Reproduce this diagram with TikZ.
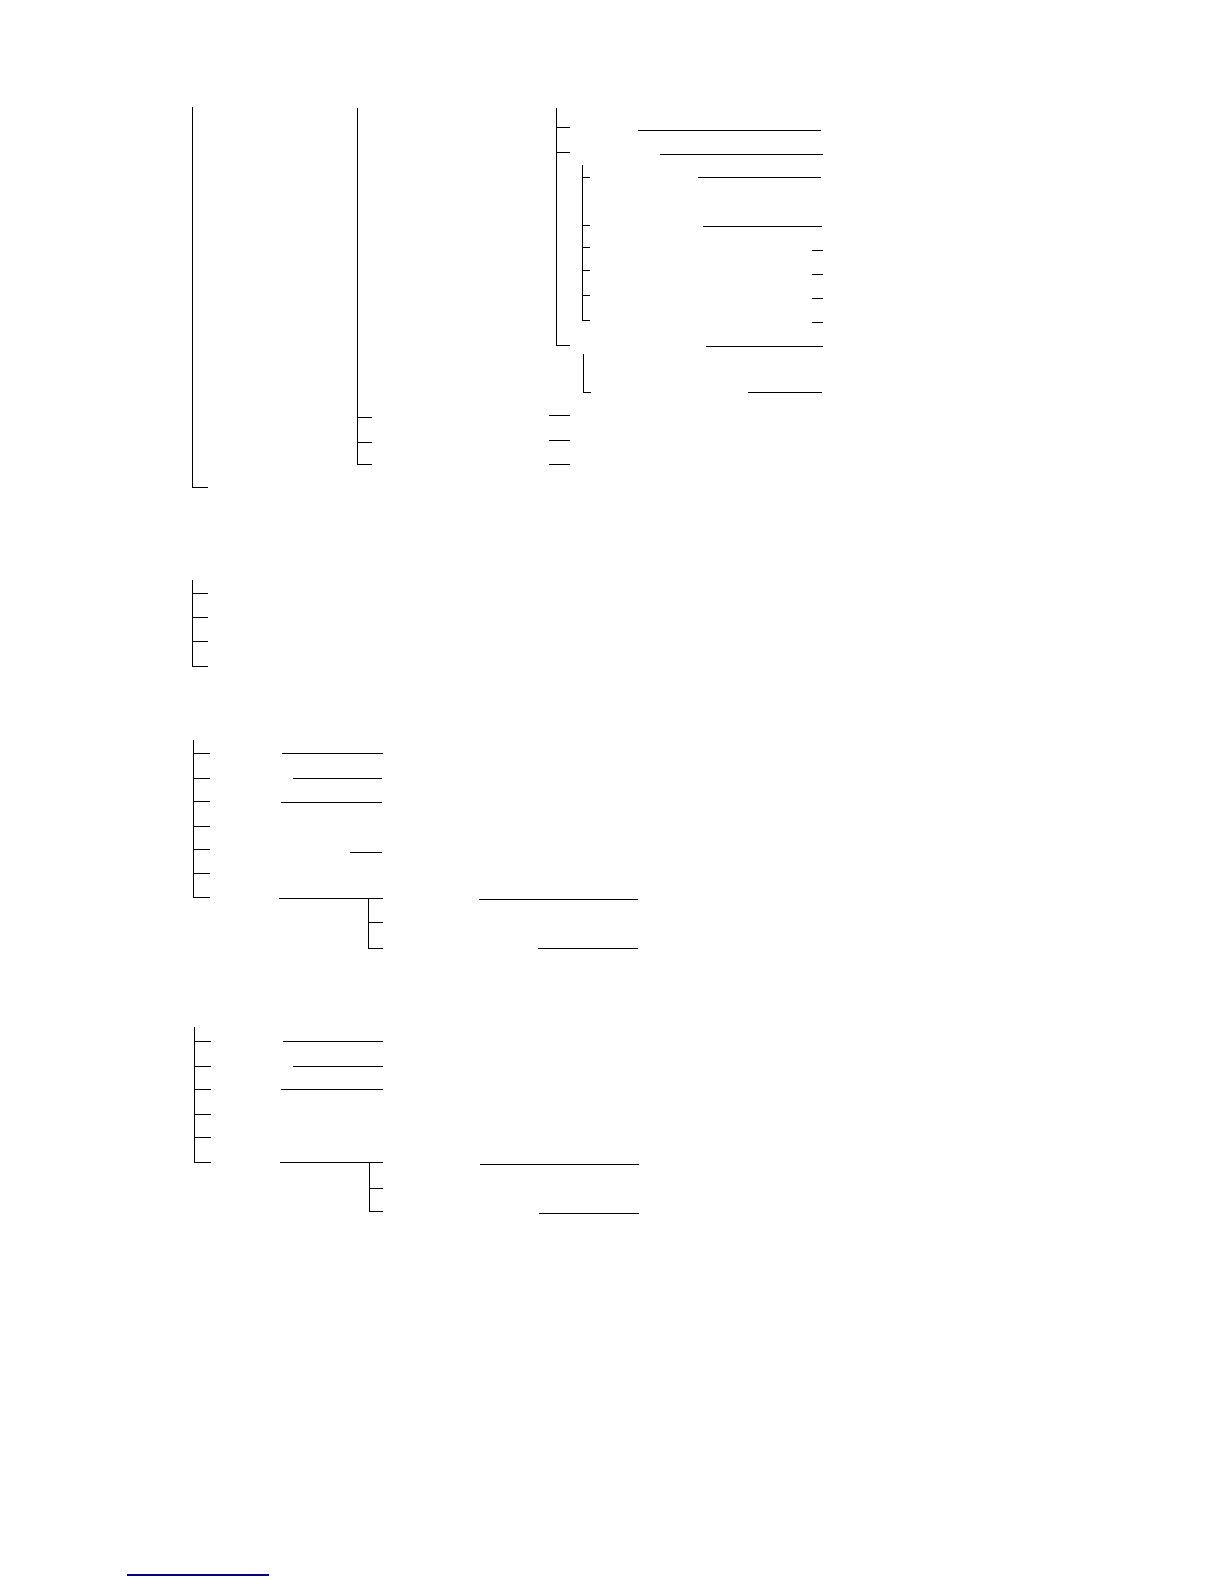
\documentclass[tikz,border=0pt]{standalone}
\usepackage{tikz}
\usetikzlibrary{positioning}
\tikzset{
  trunk/.style={line width=0.9pt},
  leader/.style={line width=0.9pt},
}

\begin{document}
\begin{tikzpicture}[x=1pt,y=-1pt]
        \useasboundingbox (0,0) rectangle (1224,1584);

        % first tree
        \draw[trunk] (192.7,107) -- (192.7,487.5) -- (208.3,487.5);
        \draw[trunk] (357,108) -- (357,464.3) -- (371.7,464.3);
        \foreach \y in {417.7,442.3} \draw[trunk] (357,\y) -- (371.7,\y);
        \foreach \y in {415,440.3,464} \draw[leader] (549,\y) -- (570,\y);

        \draw[trunk] (556.3,108) -- (556.3,345.7) -- (570,345.7);
        \foreach \y in {127.3,152} \draw[trunk] (556.3,\y) -- (570,\y);
        \draw[trunk] (582.7,165.3) -- (582.7,320) -- (590,320);
        \foreach \y in {177.3,225.3,247,270.3,295} \draw[trunk] (582.7,\y) -- (590,\y);
        \draw[trunk] (583.3,354.3) -- (583.3,392.3) -- (591,392.3);

        \draw[leader] (638.3,130.3) -- (821,130.3);
        \draw[leader] (660,154) -- (822.7,154);
        \draw[leader] (698.3,177.7) -- (821,177.7);
        \draw[leader] (703.3,226.3) -- (821.7,226.3);
        \foreach \y in {250.3,274,298.3,322} \draw[leader] (811.5,\y) -- (822.7,\y);
        \draw[leader] (705.7,346) -- (822.7,346);
        \draw[leader] (748,392.3) -- (822,392.3);

        % second tree
        \draw[trunk] (192.7,580) -- (192.7,666) -- (208,666);
        \foreach \y in {593.3,617.3,641.3} \draw[trunk] (192.7,\y) -- (208,\y);

        % third tree
        \draw[trunk] (193.7,740) -- (193.7,897.7) -- (210,897.7);
        \foreach \y in {753.3,778.7,801,826.3,849.3,873.3} \draw[trunk] (193.7,\y) -- (210,\y);
        \draw[leader] (282,753.3) -- (382.7,753.3);
        \draw[leader] (293,778.7) -- (382,778.7);
        \draw[leader] (281,802.3) -- (382,802.3);
        \draw[leader] (350,852.3) -- (382,852.3);
        \draw[leader] (279.3,898.3) -- (383,898.3);
        \draw[trunk] (368.7,898.3) -- (368.7,948) -- (383,948);
        \draw[trunk] (368.7,922.3) -- (383,922.3);
        \draw[leader] (479,899.3) -- (637.7,899.3);
        \draw[leader] (538,948) -- (637.7,948);

        % fourth tree
        \draw[trunk] (194.7,1027.3) -- (194.7,1162.3) -- (210.7,1162.3);
        \foreach \y in {1041.3,1066.7,1089,1114.3,1137} \draw[trunk] (194.7,\y) -- (210.7,\y);
        \draw[leader] (283,1041.3) -- (383,1041.3);
        \draw[leader] (293,1066.7) -- (383,1066.7);
        \draw[leader] (281,1089) -- (383,1089);
        \draw[leader] (280,1162.3) -- (383,1162.3);
        \draw[trunk] (369.3,1162.3) -- (369.3,1211.3) -- (383.3,1211.3);
        \draw[trunk] (369.3,1188.3) -- (383.3,1188.3);
        \draw[leader] (480,1164.3) -- (639,1164.3);
        \draw[leader] (539,1213) -- (639,1213);

        % footnote rule
        \draw[line width=1.2pt, blue!50!black] (127.3,1575) -- (269,1575);

    \end{tikzpicture}
\end{document}
